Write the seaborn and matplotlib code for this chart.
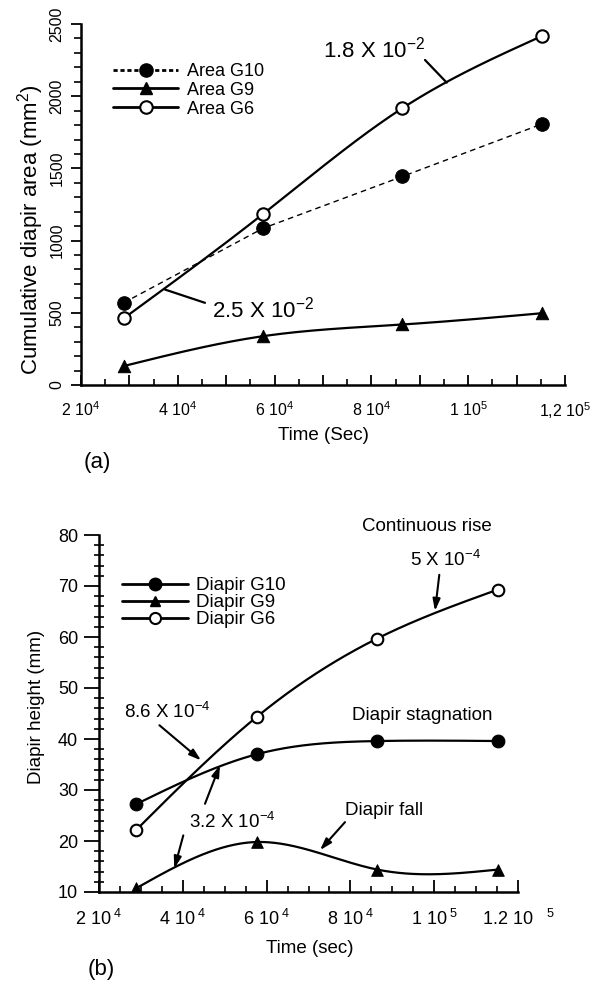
import numpy as np
import pandas as pd
import matplotlib
matplotlib.use("Agg")
import matplotlib.pyplot as plt
import seaborn as sns
from matplotlib.lines import Line2D
from matplotlib.ticker import FixedLocator, MultipleLocator

# ---------------- data ----------------
time_s = [28800, 57600, 86400, 115200]

area_g10 = [569, 1085, 1444, 1807]
area_g9 = [131, 338, 419, 497]
area_g6 = [461, 1184, 1917, 2416]

height_g10 = [27.2, 37.0, 39.6, 39.6]
height_g9 = [10.7, 19.8, 14.4, 14.4]
height_g6 = [22.1, 44.3, 59.7, 69.3]

a_xtick_pos = [20000, 30000, 40000, 50000, 60000, 70000, 80000, 90000, 100000, 110000, 120000]
a_xtick_lbl = ["2 10$^{\\mathregular{4}}$", "", "4 10$^{\\mathregular{4}}$", "", "6 10$^{\\mathregular{4}}$", "",
               "8 10$^{\\mathregular{4}}$", "", "1 10$^{\\mathregular{5}}$", "", "1,2 10$^{\\mathregular{5}}$"]
a_ytick_pos = [0, 500, 1000, 1500, 2000, 2500]
a_ytick_lbl = ["0", "500", "1000", "1500", "2000", "2500"]

b_xtick_pos = [20000, 40000, 60000, 80000, 100000, 120000]
b_xtick_lbl = ["2 10$^{\\mathregular{\\ 4}}$", "4 10$^{\\mathregular{\\ 4}}$", "6 10$^{\\mathregular{\\ 4}}$",
               "8 10$^{\\mathregular{\\ 4}}$", "1 10$^{\\mathregular{\\ 5}}$", "1.2 10$^{\\mathregular{\\quad\\ 5}}$"]
b_ytick_pos = [10, 20, 30, 40, 50, 60, 70, 80]
b_ytick_lbl = ["10", "20", "30", "40", "50", "60", "70", "80"]

legend_a = ["Area G10", "Area G9", "Area G6"]
legend_b = ["Diapir G10", "Diapir G9", "Diapir G6"]

# ---------------- style ----------------
sns.set_style("ticks")
plt.rcParams["font.family"] = ["Liberation Sans", "DejaVu Sans"]
plt.rcParams["mathtext.fontset"] = "custom"
plt.rcParams["mathtext.rm"] = "Liberation Sans"
plt.rcParams["mathtext.it"] = "Liberation Sans:italic"
plt.rcParams["mathtext.bf"] = "Liberation Sans:bold"
plt.rcParams["text.color"] = "black"
plt.rcParams["axes.labelcolor"] = "black"
plt.rcParams["xtick.color"] = "black"
plt.rcParams["ytick.color"] = "black"


def smooth(x, y, n=300):
    """Natural cubic spline path through the data points (for drawing only)."""
    x = np.asarray(x, float) / 1e4
    y = np.asarray(y, float)
    k = len(x)
    h = np.diff(x)
    A = np.zeros((k, k))
    b = np.zeros(k)
    A[0, 0] = A[-1, -1] = 1.0
    for i in range(1, k - 1):
        A[i, i - 1] = h[i - 1]
        A[i, i] = 2 * (h[i - 1] + h[i])
        A[i, i + 1] = h[i]
        b[i] = 6 * ((y[i + 1] - y[i]) / h[i] - (y[i] - y[i - 1]) / h[i - 1])
    M = np.linalg.solve(A, b)
    xs = np.linspace(x[0], x[-1], n)
    idx = np.clip(np.searchsorted(x, xs) - 1, 0, k - 2)
    x0, x1 = x[idx], x[idx + 1]
    hh = x1 - x0
    ys = (M[idx] * (x1 - xs) ** 3 / (6 * hh) + M[idx + 1] * (xs - x0) ** 3 / (6 * hh)
          + (y[idx] / hh - M[idx] * hh / 6) * (x1 - xs)
          + (y[idx + 1] / hh - M[idx + 1] * hh / 6) * (xs - x0))
    return xs * 1e4, ys


fig = plt.figure(figsize=(6.04, 9.84), dpi=100)
fig.patch.set_facecolor("white")

axA = fig.add_axes([81 / 604, 1 - 385 / 984, 484 / 604, 361 / 984])
axB = fig.add_axes([99 / 604, 1 - 892 / 984, 419 / 604, 357 / 984])

for ax in (axA, axB):
    ax.set_facecolor("white")
    for s in ("top", "right"):
        ax.spines[s].set_visible(False)
    for s in ("left", "bottom"):
        ax.spines[s].set_linewidth(1.8)
        ax.spines[s].set_color("black")
    ax.set_xlim(20000, 120000)

LW = 1.6

# ---------------- panel (a) ----------------
sns.lineplot(x=time_s, y=area_g10, ax=axA, color="black", lw=1.0, linestyle=(0, (4, 3)),
             estimator=None, sort=False)
xs, ys = smooth(time_s, area_g9)
sns.lineplot(x=xs, y=ys, ax=axA, color="black", lw=LW, estimator=None, sort=False)
xs, ys = smooth(time_s, area_g6)
sns.lineplot(x=xs, y=ys, ax=axA, color="black", lw=LW, estimator=None, sort=False)

sns.scatterplot(x=time_s, y=area_g10, ax=axA, marker="o", s=95, color="black",
                edgecolor="black", zorder=5)
sns.scatterplot(x=time_s, y=area_g9, ax=axA, marker="^", s=80, color="black",
                edgecolor="black", zorder=5)
sns.scatterplot(x=time_s, y=area_g6, ax=axA, marker="o", s=80, color="white",
                edgecolor="black", linewidth=1.5, zorder=5)

axA.set_ylim(0, 2500)
axA.xaxis.set_major_locator(FixedLocator(a_xtick_pos))
axA.set_xticklabels(a_xtick_lbl)
axA.xaxis.set_minor_locator(MultipleLocator(5000))
axA.yaxis.set_major_locator(FixedLocator(a_ytick_pos))
axA.set_yticklabels(a_ytick_lbl)
axA.yaxis.set_minor_locator(MultipleLocator(100))
axA.tick_params(axis="x", which="major", direction="in", length=7, width=1.3, labelsize=11.5, pad=11)
axA.tick_params(axis="x", which="minor", direction="in", length=4, width=1.2)
axA.tick_params(axis="y", which="major", direction="out", length=7, width=1.3, labelsize=11.5, pad=5)
axA.tick_params(axis="y", which="minor", direction="out", length=5, width=1.2)
for lab in axA.get_yticklabels():
    lab.set_rotation(90)
    lab.set_va("center")
    lab.set_ha("right")

axA.set_xlabel("Time (Sec)", fontsize=13.5)
axA.xaxis.set_label_coords(0.5, -0.141)
axA.xaxis.label.set_va("center")
axA.set_ylabel("Cumulative diapir area (mm$^{\\mathregular{2}}$)", fontsize=16)
axA.yaxis.set_label_coords(-0.104, 0.43)
axA.yaxis.label.set_va("center")

handles_a = [
    Line2D([], [], color="black", lw=2.0, linestyle=(0, (1.5, 1.0)), marker="o", markersize=9.5,
           markerfacecolor="black"),
    Line2D([], [], color="black", lw=2.0, marker="^", markersize=8.5, markerfacecolor="black"),
    Line2D([], [], color="black", lw=2.0, marker="o", markersize=9, markerfacecolor="white",
           markeredgewidth=1.5),
]
axA.legend(handles_a, legend_a, loc="upper left", bbox_to_anchor=(113 / 604, 1 - 63 / 984),
           bbox_transform=fig.transFigure, frameon=False, fontsize=13, handlelength=3.6,
           handletextpad=0.5, labelspacing=0.1, borderpad=0, borderaxespad=0)

axA.text(70000, 2320, "1.8 X 10$^{\\mathregular{-2}}$", fontsize=16, ha="left", va="center")
axA.annotate("", xy=(95558, 2094), xytext=(91074, 2251),
             arrowprops=dict(arrowstyle="-", color="black", lw=1.6, shrinkA=0, shrinkB=0))
axA.text(47066, 523, "2.5 X 10$^{\\mathregular{-2}}$", fontsize=16, ha="left", va="center")
axA.annotate("", xy=(37355, 661), xytext=(45620, 569),
             arrowprops=dict(arrowstyle="-", color="black", lw=1.6, shrinkA=0, shrinkB=0))

fig.text(97 / 604, 1 - 463 / 984, "(a)", fontsize=16, ha="center", va="center")

# ---------------- panel (b) ----------------
for yv in (height_g10, height_g9, height_g6):
    xs, ys = smooth(time_s, yv)
    sns.lineplot(x=xs, y=ys, ax=axB, color="black", lw=LW, estimator=None, sort=False)

sns.scatterplot(x=time_s, y=height_g10, ax=axB, marker="o", s=85, color="black",
                edgecolor="black", zorder=5)
sns.scatterplot(x=time_s, y=height_g9, ax=axB, marker="^", s=70, color="black",
                edgecolor="black", zorder=5)
sns.scatterplot(x=time_s, y=height_g6, ax=axB, marker="o", s=70, color="white",
                edgecolor="black", linewidth=1.5, zorder=5)

axB.set_ylim(10, 80)
axB.xaxis.set_major_locator(FixedLocator(b_xtick_pos))
axB.set_xticklabels(b_xtick_lbl)
axB.xaxis.set_minor_locator(MultipleLocator(5000))
axB.yaxis.set_major_locator(FixedLocator(b_ytick_pos))
axB.set_yticklabels(b_ytick_lbl)
axB.yaxis.set_minor_locator(MultipleLocator(2))
axB.tick_params(axis="x", which="major", direction="in", length=9, width=1.3, labelsize=13, pad=12)
axB.tick_params(axis="x", which="minor", direction="in", length=4, width=1.2)
axB.tick_params(axis="y", which="major", direction="out", length=11, width=1.3, labelsize=13, pad=4)
axB.tick_params(axis="y", which="minor", direction="inout", length=7, width=1.2)

axB.set_xlabel("Time (sec)", fontsize=13.5)
axB.xaxis.set_label_coords(0.504, -0.158)
axB.xaxis.label.set_va("center")
axB.set_ylabel("Diapir height (mm)", fontsize=13.5)
axB.yaxis.set_label_coords(-0.149, 0.519)
axB.yaxis.label.set_va("center")

handles_b = [
    Line2D([], [], color="black", lw=2.0, marker="o", markersize=9, markerfacecolor="black"),
    Line2D([], [], color="black", lw=2.0, marker="^", markersize=7.5, markerfacecolor="black"),
    Line2D([], [], color="black", lw=2.0, marker="o", markersize=8, markerfacecolor="white",
           markeredgewidth=1.5),
]
axB.legend(handles_b, legend_b, loc="upper left", bbox_to_anchor=(122 / 604, 1 - 577 / 984),
           bbox_transform=fig.transFigure, frameon=False, fontsize=13.5, handlelength=3.5,
           handletextpad=0.45, labelspacing=0.0, borderpad=0, borderaxespad=0)

arrow_kw = dict(arrowstyle="-|>,head_length=0.7,head_width=0.22", color="black", lw=1.5,
                shrinkA=0, shrinkB=0)
axB.text(98282, 81.6, "Continuous rise", fontsize=13.5, ha="center", va="center")
axB.text(102578, 75.1, "5 X 10$^{\\mathregular{-4}}$", fontsize=13.5, ha="center", va="center")
axB.annotate("", xy=(100191, 65.1), xytext=(101217, 72.2), arrowprops=arrow_kw)
axB.text(36229, 45.3, "8.6 X 10$^{\\mathregular{-4}}$", fontsize=13.5, ha="center", va="center")
axB.annotate("", xy=(44368, 35.8), xytext=(34415, 42.7), arrowprops=arrow_kw)
axB.text(97088, 44.7, "Diapir stagnation", fontsize=13.5, ha="center", va="center")
axB.text(51862, 23.7, "3.2 X 10$^{\\mathregular{-4}}$", fontsize=13.5, ha="center", va="center")
axB.annotate("", xy=(48878, 34.9), xytext=(45298, 27.3), arrowprops=arrow_kw)
axB.annotate("", xy=(37971, 14.6), xytext=(40119, 21.1), arrowprops=arrow_kw)
axB.text(88019, 26.0, "Diapir fall", fontsize=13.5, ha="center", va="center")
axB.annotate("", xy=(72745, 18.2), xytext=(78711, 23.7), arrowprops=arrow_kw)

fig.text(101.7 / 604, 1 - 970 / 984, "(b)", fontsize=16, ha="center", va="center")

fig.savefig("out.png", dpi=100, facecolor="white")
